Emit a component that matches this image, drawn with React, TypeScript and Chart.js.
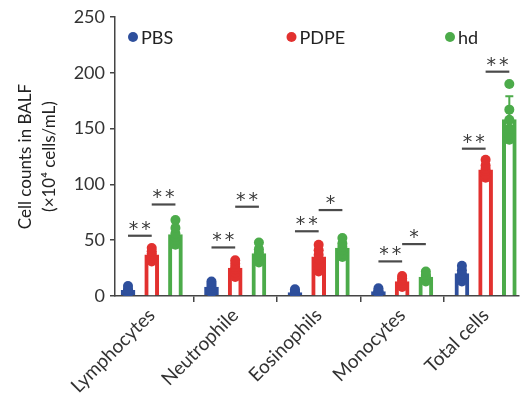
import React, { useEffect, useRef } from "react";
import { Chart, registerables } from "chart.js";

Chart.register(...registerables);

const categories = ["Lymphocytes", "Neutrophile", "Eosinophils", "Monocytes", "Total cells"];
const seriesNames = ["PBS", "PDPE", "hd"];
const seriesColors = ["#2E4F9C", "#E2312F", "#4CAB4A"];

const pbsMean = [5, 8, 3, 4, 20];
const pdpeMean = [37, 25, 35, 13, 113];
const hdMean = [55, 38, 43, 17, 158];

const pbsSD = [2, 3, 2, 2, 5];
const pdpeSD = [4, 5, 8, 3, 6];
const hdSD = [8, 6, 6, 3, 21];

const pbsPoints = [
  [2, 3, 4, 5, 6, 9],
  [3, 5, 7, 9, 11, 13],
  [1, 2, 2, 3, 4, 6],
  [2, 3, 3, 4, 5, 7],
  [13, 16, 18, 20, 23, 27],
];
const pdpePoints = [
  [31, 34, 36, 38, 40, 43],
  [17, 21, 24, 26, 29, 32],
  [22, 28, 33, 37, 41, 46],
  [8, 10, 12, 14, 16, 18],
  [106, 109, 112, 114, 117, 122],
];
const hdPoints = [
  [46, 50, 53, 56, 61, 68],
  [30, 33, 36, 39, 42, 48],
  [35, 38, 41, 44, 47, 52],
  [13, 15, 16, 18, 19, 22],
  [140, 144, 150, 158, 167, 190],
];

const sigCategory = [0, 0, 1, 1, 2, 2, 3, 3, 4, 4];
const sigFrom = [0, 1, 0, 1, 0, 1, 0, 1, 0, 1];
const sigTo = [1, 2, 1, 2, 1, 2, 1, 2, 1, 2];
const sigY = [54, 82, 43.5, 80, 58, 77, 31, 46.5, 132, 201];
const sigLabel = ["**", "**", "**", "**", "**", "*", "**", "*", "**", "**"];

const yMin = 0;
const yMax = 250;
const yStep = 50;

const means = [pbsMean, pdpeMean, hdMean];
const sds = [pbsSD, pdpeSD, hdSD];
const points = [pbsPoints, pdpePoints, hdPoints];

const GROUP_OFFSET = 0.284;
const FONT = "Lato, 'Open Sans', sans-serif";

const posOf = (c: number, s: number) => c + 1 + (s - 1) * GROUP_OFFSET;

const overlayPlugin = {
  id: "overlay",
  afterDatasetDraw(chart: any, args: any) {
    const ds = chart.data.datasets[args.index];
    if (ds.kind !== "bar") return;
    const s = ds.seriesIndex;
    const ctx = chart.ctx;
    const xs = chart.scales.x;
    const ys = chart.scales.y;
    ctx.save();
    ctx.strokeStyle = seriesColors[s];
    ctx.lineWidth = 2;
    categories.forEach((_, c) => {
      const x = xs.getPixelForValue(posOf(c, s));
      const y0 = ys.getPixelForValue(means[s][c]);
      const y1 = ys.getPixelForValue(means[s][c] + sds[s][c]);
      ctx.beginPath();
      ctx.moveTo(x, y0);
      ctx.lineTo(x, y1);
      ctx.moveTo(x - 4, y1);
      ctx.lineTo(x + 4, y1);
      ctx.stroke();
    });
    ctx.restore();
  },
  afterDraw(chart: any) {
    const ctx = chart.ctx;
    const xs = chart.scales.x;
    const ys = chart.scales.y;
    const area = chart.chartArea;
    ctx.save();
    // significance bars
    sigCategory.forEach((c, i) => {
      const xa = xs.getPixelForValue(posOf(c, sigFrom[i]));
      const xb = xs.getPixelForValue(posOf(c, sigTo[i]));
      const y = ys.getPixelForValue(sigY[i]);
      ctx.strokeStyle = "#4a4a4a";
      ctx.lineWidth = 2.2;
      ctx.beginPath();
      ctx.moveTo(xa, y);
      ctx.lineTo(xb, y);
      ctx.stroke();
      ctx.fillStyle = "#3a3a3a";
      ctx.font = `19px 'DejaVu Sans', sans-serif`;
      (ctx as any).letterSpacing = "3px";
      ctx.textAlign = "center";
      ctx.textBaseline = "alphabetic";
      ctx.fillText(sigLabel[i], (xa + xb) / 2 + 1.5, y - 1);
    });
    (ctx as any).letterSpacing = "0px";
    // legend
    seriesNames.forEach((name, s) => {
      const cx = area.left + 18 + s * 158.5;
      const cy = area.top + 20;
      ctx.fillStyle = seriesColors[s];
      ctx.beginPath();
      ctx.arc(cx, cy, 5, 0, Math.PI * 2);
      ctx.fill();
      ctx.fillStyle = "#222";
      ctx.font = `18px ${FONT}`;
      ctx.textAlign = "left";
      ctx.textBaseline = "middle";
      ctx.fillText(name, cx + 8, cy + 1);
    });
    ctx.restore();
  },
};

export default function App() {
  const canvasRef = useRef<HTMLCanvasElement | null>(null);

  useEffect(() => {
    if (!canvasRef.current) return;
    const barSets = seriesNames.map((name, s) => ({
      type: "bar" as const,
      label: name,
      kind: "bar",
      seriesIndex: s,
      data: means[s].map((v, c) => ({ x: posOf(c, s), y: v })),
      backgroundColor: "#ffffff",
      borderColor: seriesColors[s],
      borderWidth: 4,
      borderSkipped: "start",
      barThickness: 14,
      grouped: false,
      order: 3,
    }));
    const pointSets = seriesNames.map((name, s) => ({
      type: "scatter" as const,
      label: name + " points",
      kind: "points",
      seriesIndex: s,
      data: points[s].flatMap((arr, c) => arr.map((v) => ({ x: posOf(c, s), y: v }))),
      backgroundColor: seriesColors[s],
      borderColor: seriesColors[s],
      borderWidth: 0,
      pointRadius: 5,
      order: 1,
    }));

    const chart = new Chart(canvasRef.current, {
      type: "bar",
      data: { datasets: [...barSets, ...pointSets] as any },
      options: {
        animation: false,
        responsive: false,
        events: [],
        layout: { padding: { left: 13, top: 17, right: 0, bottom: 0 } },
        plugins: { legend: { display: false }, tooltip: { enabled: false } },
        scales: {
          x: {
            type: "linear",
            min: 0.56,
            max: 5.4,
            offset: false,
            afterBuildTicks: (s: any) => {
              s.ticks = categories.map((_, i) => ({ value: i + 1 }));
            },
            afterFit: (s: any) => {
              s.height = 105;
            },
            grid: {
              display: true,
              drawOnChartArea: false,
              drawTicks: true,
              tickLength: 6,
              color: "#444",
              lineWidth: 1.5,
            },
            border: { display: true, color: "#444", width: 1.5 },
            ticks: {
              autoSkip: false,
              maxRotation: 45,
              minRotation: 45,
              padding: 2,
              color: "#333",
              font: { family: FONT, size: 19 },
              callback: (v: any) => categories[Math.round(Number(v)) - 1] ?? "",
            },
          },
          y: {
            type: "linear",
            min: yMin,
            max: yMax,
            afterFit: (s: any) => {
              s.width = 115 - 13;
            },
            grid: {
              display: true,
              drawOnChartArea: false,
              drawTicks: true,
              tickLength: 5,
              color: "#444",
              lineWidth: 1.5,
            },
            border: { display: true, color: "#444", width: 1.5 },
            ticks: {
              stepSize: yStep,
              padding: 5,
              color: "#333",
              font: { family: FONT, size: 18 },
            },
            title: {
              display: true,
              text: ["Cell counts in BALF", "(×10⁴ cells/mL)"],
              color: "#222",
              font: { family: FONT, size: 17, lineHeight: 1.45 },
              padding: { top: 0, bottom: 0 },
            },
          },
        },
      } as any,
      plugins: [overlayPlugin as any],
    });
    return () => chart.destroy();
  }, []);

  return (
    <div style={{ position: "fixed", left: 0, top: 0, width: 524, height: 401, background: "#fff" }}>
      <canvas ref={canvasRef} width={524} height={401} style={{ display: "block" }} />
    </div>
  );
}
